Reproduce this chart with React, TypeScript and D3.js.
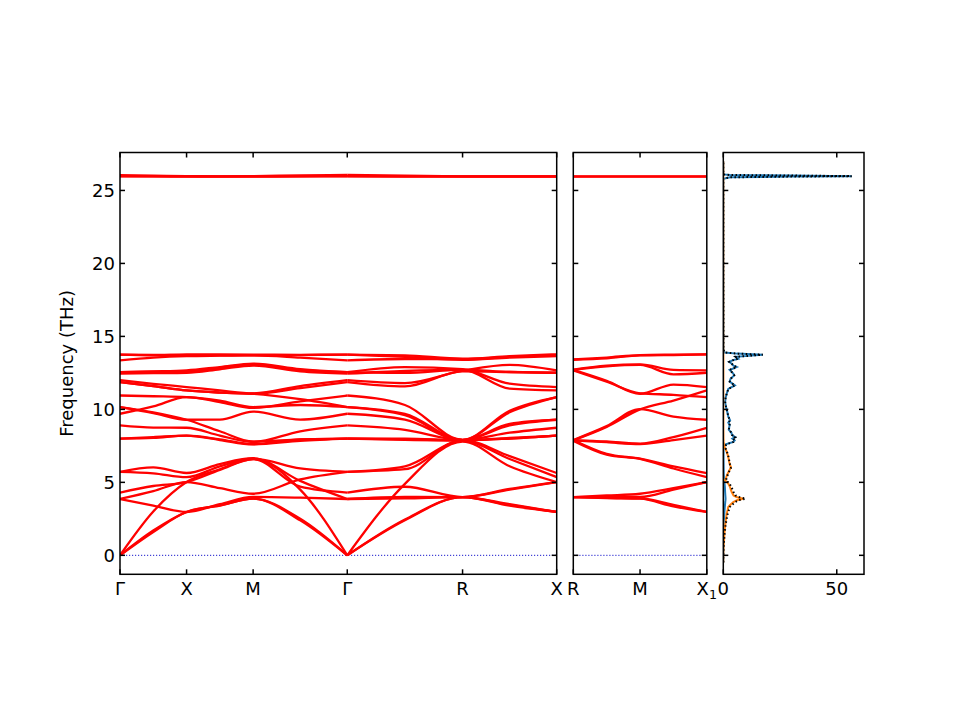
import React from "react";
import * as d3 from "d3";

// ---------- k-paths ----------
const path1Labels = ["Γ", "X", "M", "Γ", "R", "X"];
const path1Segments = [0.5, 0.5, Math.SQRT1_2, Math.sqrt(3) / 2, Math.SQRT1_2];
const path2Labels = ["R", "M", "X"];
const path2Subscripts = ["", "", "1"];
const path2Segments = [0.5, 0.5];

// ---------- band frequencies (THz), sampled at each high-symmetry point and segment midpoint ----------
// path 1 nodes: Γ, ·, X, ·, M, ·, Γ, ·, R, ·, X
const bands1: number[][] = [
  [0, 1.6, 2.97, 3.4, 3.88, 2.4, 0, 2.4, 3.99, 3.4, 2.97],
  [0, 1.7, 2.97, 3.42, 3.88, 2.5, 0, 2.45, 3.99, 3.45, 2.97],
  [3.86, 3.4, 2.97, 3.5, 4.0, 3.95, 3.86, 3.9, 3.99, 3.5, 2.97],
  [0, 3.0, 5.02, 5.9, 6.6, 4.5, 0, 4.9, 7.8, 6.1, 5.02],
  [3.86, 4.4, 5.02, 4.6, 4.22, 5.2, 5.72, 6.1, 7.85, 6.6, 5.36],
  [4.3, 4.75, 5.02, 5.85, 6.6, 4.7, 4.3, 4.7, 3.99, 4.55, 5.02],
  [5.72, 5.62, 5.36, 6.1, 6.62, 5.95, 5.72, 5.9, 7.9, 6.8, 5.64],
  [5.72, 6.02, 5.64, 6.25, 6.65, 5.1, 3.86, 4.0, 3.99, 4.5, 5.02],
  [8.0, 8.05, 8.2, 7.9, 7.6, 7.85, 8.0, 7.95, 7.88, 8.0, 8.2],
  [8.0, 8.1, 8.2, 7.95, 7.62, 7.95, 8.0, 7.92, 7.88, 8.05, 8.2],
  [8.9, 8.75, 8.74, 8.2, 7.76, 8.5, 8.9, 8.6, 7.9, 8.4, 8.74],
  [10.16, 9.8, 9.29, 8.5, 7.8, 7.95, 8.0, 8.0, 7.88, 8.0, 8.2],
  [10.16, 9.75, 9.29, 9.3, 9.85, 9.3, 9.7, 9.3, 7.9, 8.9, 9.29],
  [9.7, 10.2, 10.84, 10.5, 10.1, 10.55, 10.95, 10.3, 7.92, 9.9, 10.84],
  [10.95, 10.9, 10.84, 10.6, 10.16, 10.3, 10.16, 9.6, 7.9, 9.8, 10.84],
  [13.75, 13.74, 13.72, 13.71, 13.7, 13.72, 13.75, 13.7, 13.47, 13.65, 13.77],
  [13.75, 13.7, 13.77, 13.76, 13.75, 13.74, 13.75, 13.6, 13.4, 13.55, 13.65],
  [13.36, 13.55, 13.65, 13.68, 13.7, 13.55, 13.36, 13.45, 13.42, 13.6, 13.72],
  [12.55, 12.6, 12.67, 12.9, 13.13, 12.75, 12.55, 12.9, 12.75, 11.76, 11.53],
  [12.45, 12.48, 12.51, 12.75, 13.0, 12.6, 12.45, 12.63, 12.7, 11.42, 11.3],
  [12.55, 12.58, 12.6, 12.85, 13.08, 12.7, 12.55, 12.5, 12.72, 12.56, 12.51],
  [12.0, 11.75, 11.53, 11.3, 11.1, 11.6, 12.0, 11.8, 12.65, 13.05, 12.67],
  [11.87, 11.6, 11.3, 11.15, 11.07, 11.45, 11.87, 11.57, 12.6, 12.56, 12.51],
  [11.87, 11.6, 11.3, 11.15, 11.07, 10.7, 10.16, 9.7, 7.9, 9.0, 9.29],
  [26.05, 26.02, 25.98, 25.97, 25.98, 26.03, 26.06, 26.02, 25.97, 25.96, 25.96],
  [25.98, 25.97, 25.96, 25.96, 25.96, 25.97, 25.98, 25.97, 25.96, 25.96, 25.96],
  [25.96, 25.96, 25.95, 25.95, 25.95, 25.96, 25.96, 25.95, 25.95, 25.95, 25.95],
];

// path 2 nodes: R, ·, M, ·, X1
const bands2: number[][] = [
  [13.4, 13.5, 13.7, 13.72, 13.77],
  [13.42, 13.55, 13.72, 13.75, 13.77],
  [12.72, 13.0, 13.08, 12.7, 12.67],
  [12.7, 12.95, 13.05, 12.4, 12.51],
  [12.7, 11.95, 11.07, 11.7, 11.53],
  [12.67, 11.9, 11.1, 11.0, 10.84],
  [7.88, 8.8, 10.0, 10.6, 11.3],
  [7.9, 8.85, 10.02, 9.5, 9.29],
  [7.88, 7.8, 7.65, 8.1, 8.74],
  [7.88, 7.75, 7.62, 7.9, 8.2],
  [7.9, 6.95, 6.62, 6.1, 5.64],
  [7.85, 6.9, 6.6, 5.95, 5.36],
  [3.99, 4.0, 4.0, 4.5, 5.02],
  [3.99, 4.1, 4.22, 4.6, 5.02],
  [3.99, 3.92, 3.88, 3.35, 2.97],
  [3.99, 3.93, 3.9, 3.45, 2.97],
  [25.96, 25.96, 25.96, 25.96, 25.96],
  [25.95, 25.95, 25.95, 25.95, 25.95],
];

// ---------- axes ----------
const freqTicks = [0, 5, 10, 15, 20, 25];
const dosTicks = [0, 50];

// ---------- partial DOS ----------
const dosFreq = [
  -0.5, 0, 0.5, 1.0, 1.5, 1.94, 2.4, 2.85, 3.1, 3.31, 3.45, 3.65, 3.78, 3.88, 4.0, 4.1, 4.34, 4.5, 4.68,
  4.91, 5.14, 5.3, 5.59, 5.8, 6.05, 6.2, 6.4, 6.74, 7.0, 7.2, 7.42, 7.6, 7.77, 7.88, 8.0, 8.1, 8.25, 8.4,
  8.6, 8.93, 9.1, 9.25, 9.5, 9.8, 10.16, 10.5, 10.8, 11.07, 11.4, 11.64, 11.9, 12.1, 12.33, 12.45, 12.7,
  12.9, 13.0, 13.13, 13.25, 13.36, 13.47, 13.6, 13.7, 13.75, 13.82, 13.9, 14.1, 20, 25.8, 25.9, 25.95,
  25.98, 26.02, 26.06, 26.1, 27.0,
];
const dosBlue = [
  0, 0, 0.02, 0.05, 0.1, 0.15, 0.25, 0.45, 0.55, 0.65, 0.75, 0.85, 0.95, 1.0, 0.95, 0.9, 0.8, 0.75, 0.7,
  0.55, 0.4, 0.3, 0.2, 0.18, 0.15, 0.14, 0.12, 0.1, 0.1, 0.1, 0.2, 1.0, 4.4, 5.0, 4.0, 5.2, 3.8, 3.6,
  2.4, 2.8, 2.2, 3.0, 2.2, 1.8, 1.2, 0.8, 1.0, 1.5, 2.2, 5.1, 2.8, 3.2, 4.8, 4.4, 2.8,
  5.9, 4.5, 3.7, 2.6, 4.0, 6.6, 5.5, 14.0, 17.4, 6.0, 0.5, 0.05, 0, 0, 3, 30,
  56.6, 30, 3, 0, 0,
];
const dosOrange = [
  0, 0, 0.1, 0.3, 0.5, 0.75, 1.1, 1.5, 1.9, 2.2, 3.0, 4.4, 6.0, 8.8, 5.8, 4.5, 3.7, 3.3, 2.95,
  2.2, 0.75, 1.2, 1.9, 2.6, 3.4, 2.9, 2.6, 2.2, 1.7, 1.2, 0.6, 0.3, 0.15, 0.1, 0.06, 0.05, 0.05, 0.04,
  0.03, 0.03, 0.03, 0.02, 0.02, 0.02, 0.02, 0.02, 0.02, 0.02, 0.02, 0.02, 0.02, 0.02, 0.02, 0.02, 0.02,
  0.02, 0.02, 0.02, 0.02, 0.02, 0.02, 0.02, 0.02, 0.02, 0.02, 0.01, 0, 0, 0, 0, 0,
  0, 0, 0, 0, 0,
];

// ---------- layout ----------
const TOP = 152.5;
const BOTTOM = 574.3;
const P1 = { x0: 120, x1: 556.7 };
const P2 = { x0: 573.3, x1: 706.8 };
const P3 = { x0: 723.3, x1: 864 };
const FS = 18;
const FONT = "DejaVu Sans, sans-serif";
const TICK = 5;

function buildPath(segs: number[]) {
  const nodes: number[] = [0];
  const ticks: number[] = [0];
  let acc = 0;
  for (const s of segs) {
    nodes.push(acc + s / 2);
    acc += s;
    nodes.push(acc);
    ticks.push(acc);
  }
  return { nodes, ticks, total: acc };
}

function Frame({ x0, x1, xTicks, yTicks }: { x0: number; x1: number; xTicks: number[]; yTicks: number[] }) {
  return (
    <g stroke="#000" strokeWidth={1.5} fill="none">
      {yTicks.map((py, i) => (
        <g key={"y" + i}>
          <line x1={x0} x2={x0 + TICK} y1={py} y2={py} />
          <line x1={x1 - TICK} x2={x1} y1={py} y2={py} />
        </g>
      ))}
      {xTicks.map((px, i) => (
        <g key={"x" + i}>
          <line x1={px} x2={px} y1={BOTTOM} y2={BOTTOM - TICK} />
          <line x1={px} x2={px} y1={TOP} y2={TOP + TICK} />
        </g>
      ))}
      <rect x={x0} y={TOP} width={x1 - x0} height={BOTTOM - TOP} />
    </g>
  );
}

export default function App() {
  const y = d3.scaleLinear().domain([-1.3, 27.6]).range([BOTTOM, TOP]);
  const path1 = buildPath(path1Segments);
  const path2 = buildPath(path2Segments);
  const x1 = d3.scaleLinear().domain([0, path1.total]).range([P1.x0, P1.x1]);
  const x2 = d3.scaleLinear().domain([0, path2.total]).range([P2.x0, P2.x1]);
  const xd = d3.scaleLinear().domain([0, 62]).range([P3.x0, P3.x1]);

  const line = d3
    .line<[number, number]>()
    .x((d) => d[0])
    .y((d) => d[1])
    .curve(d3.curveMonotoneX);

  const pieces1: [number, number][] = [
    [0, 6],
    [6, 10],
  ];
  const bandPaths1: string[] = [];
  bands1.forEach((band) => {
    pieces1.forEach(([a, b]) => {
      const pts: [number, number][] = [];
      for (let i = a; i <= b; i++) pts.push([x1(path1.nodes[i]), y(band[i])]);
      bandPaths1.push(line(pts) || "");
    });
  });
  const bandPaths2: string[] = bands2.map((band) => {
    const pts: [number, number][] = band.map((f, i) => [x2(path2.nodes[i]), y(f)]);
    return line(pts) || "";
  });

  const dosLine = (vals: number[]) =>
    d3
      .line<number>()
      .x((d) => xd(d))
      .y((_, i) => y(dosFreq[i]))(vals) || "";
  const dosTotal = dosBlue.map((v, i) => v + dosOrange[i]);

  const yTickPx = freqTicks.map((t) => y(t));

  return (
    <svg
      width={960}
      height={720}
      style={{ position: "absolute", left: 0, top: 0, display: "block" }}
      fontFamily={FONT}
    >
      <rect x={0} y={0} width={960} height={720} fill="#fff" />
      <defs>
        <clipPath id="c1">
          <rect x={P1.x0} y={TOP} width={P1.x1 - P1.x0} height={BOTTOM - TOP} />
        </clipPath>
        <clipPath id="c2">
          <rect x={P2.x0} y={TOP} width={P2.x1 - P2.x0} height={BOTTOM - TOP} />
        </clipPath>
        <clipPath id="c3">
          <rect x={P3.x0} y={TOP} width={P3.x1 - P3.x0} height={BOTTOM - TOP} />
        </clipPath>
      </defs>

      {/* Panel 1 */}
      <g clipPath="url(#c1)">
        <line x1={P1.x0} x2={P1.x1} y1={y(0)} y2={y(0)} stroke="#1a1acc" strokeWidth={1} strokeDasharray="1.2,1.8" />
        {bandPaths1.map((d, i) => (
          <path key={i} d={d} fill="none" stroke="#ff0000" strokeWidth={2.3} />
        ))}
      </g>
      <Frame x0={P1.x0} x1={P1.x1} xTicks={path1.ticks.map((k) => x1(k))} yTicks={yTickPx} />

      {/* Panel 2 */}
      <g clipPath="url(#c2)">
        <line x1={P2.x0} x2={P2.x1} y1={y(0)} y2={y(0)} stroke="#1a1acc" strokeWidth={1} strokeDasharray="1.2,1.8" />
        {bandPaths2.map((d, i) => (
          <path key={i} d={d} fill="none" stroke="#ff0000" strokeWidth={2.3} />
        ))}
      </g>
      <Frame x0={P2.x0} x1={P2.x1} xTicks={path2.ticks.map((k) => x2(k))} yTicks={yTickPx} />

      {/* Panel 3: DOS */}
      <g clipPath="url(#c3)">
        <path d={dosLine(dosBlue)} fill="none" stroke="#1f77b4" strokeWidth={2} />
        <path d={dosLine(dosOrange)} fill="none" stroke="#ff7f0e" strokeWidth={2} />
        <path d={dosLine(dosTotal)} fill="none" stroke="#000" strokeWidth={2} strokeDasharray="1.5,2.5" />
      </g>
      <Frame x0={P3.x0} x1={P3.x1} xTicks={dosTicks.map((t) => xd(t))} yTicks={yTickPx} />

      {/* Tick labels */}
      <g fontSize={FS} fill="#000">
        {freqTicks.map((t, i) => (
          <text key={i} x={P1.x0 - 5} y={y(t)} dy="0.36em" textAnchor="end">
            {t}
          </text>
        ))}
        {path1Labels.map((lab, i) => (
          <text key={"l1" + i} x={x1(path1.ticks[i])} y={BOTTOM + 20.5} textAnchor="middle">
            {lab}
          </text>
        ))}
        {path2Labels.map((lab, i) => (
          <text key={"l2" + i} x={x2(path2.ticks[i])} y={BOTTOM + 20.5} textAnchor="middle">
            {lab}
            {path2Subscripts[i] ? (
              <tspan fontSize={FS * 0.7} dy="0.3em">
                {path2Subscripts[i]}
              </tspan>
            ) : null}
          </text>
        ))}
        {dosTicks.map((t, i) => (
          <text key={"d" + i} x={xd(t)} y={BOTTOM + 20.5} textAnchor="middle">
            {t}
          </text>
        ))}
        <text transform={`translate(73, ${(TOP + BOTTOM) / 2}) rotate(-90)`} textAnchor="middle">
          Frequency (THz)
        </text>
      </g>
    </svg>
  );
}
